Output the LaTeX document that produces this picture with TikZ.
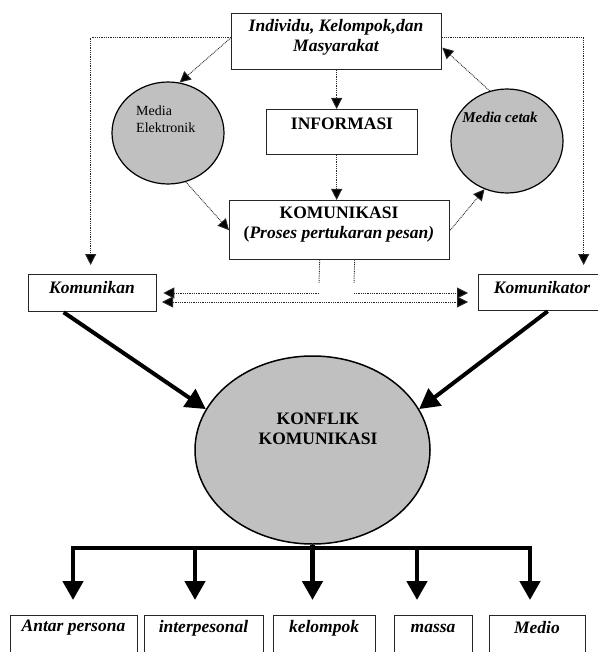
\documentclass[tikz,border=0pt]{standalone}
\usepackage{fontspec}
\setmainfont{Liberation Serif}
\usetikzlibrary{arrows.meta,shapes.geometric}
\definecolor{ellgray}{RGB}{192,192,192}
\definecolor{dotgray}{RGB}{40,40,40}
\begin{document}
\begin{tikzpicture}[x=1pt,y=-1pt,
  box/.style={draw=black!85,line width=1.3pt,fill=white,inner sep=0pt,anchor=north west},
  ell/.style={ellipse,draw=black,line width=1.2pt,fill=ellgray,inner sep=0pt},
  bi/.style={font=\fontsize{17.5}{20}\selectfont\bfseries\itshape,inner sep=0pt,align=center},
  bb/.style={font=\fontsize{17.5}{20}\selectfont\bfseries,inner sep=0pt,align=center},
  dotline/.style={draw=dotgray,line width=0.9pt,dash pattern=on 0.9pt off 0.9pt},
  dotarr/.style={dotline,-{Triangle[length=11pt,width=11pt,fill=black]}},
  dotarrb/.style={dotline,{Triangle[length=11pt,width=11pt,fill=black]}-{Triangle[length=11pt,width=11pt,fill=black]}},
  thickarr/.style={draw=black,line width=4pt,-{Triangle[length=20pt,width=21pt]}},
  treeline/.style={draw=black,line width=4.5pt},
  treearr/.style={draw=black,line width=4.5pt,-{Triangle[length=19pt,width=20pt]}}
]
\useasboundingbox (0,0) rectangle (597,652);

% top box
\node[box,minimum width=210pt,minimum height=56pt] (top) at (231,13) {};
\node[bi] (toptxt) at (336,37) {Individu, Kelompok,dan\\Masyarakat};

% INFORMASI
\node[box,minimum width=151pt,minimum height=45pt] (info) at (266,109) {};
\node[bb] (infotxt) at (342,124) {INFORMASI};

% KOMUNIKASI
\node[box,minimum width=220pt,minimum height=59pt] (kom) at (229,200) {};
\node[bb] (komtxt) at (339,225) {KOMUNIKASI\\(\textit{Proses pertukaran pesan)}};

% ellipses
\node[ell,minimum width=112pt,minimum height=102pt] (me) at (168,133) {};
\node[font=\fontsize{14}{17}\selectfont,inner sep=0pt,align=left,anchor=west] (metxt) at (136,119) {Media\\Elektronik};
\node[ell,minimum width=112pt,minimum height=104pt] (mc) at (507,141) {};
\node[font=\fontsize{15}{18}\selectfont\bfseries\itshape,inner sep=0pt] (mctxt) at (500,117) {Media cetak};

% Komunikan / Komunikator
\node[box,minimum width=128pt,minimum height=37pt] (kmk) at (28,274) {};
\node[bi] (kmktxt) at (92,288) {Komunikan};
\node[box,minimum width=128pt,minimum height=36pt] (kmr) at (478,274) {};
\node[bi] (kmrtxt) at (542,288) {Komunikator};

% big ellipse
\node[ell,minimum width=235pt,minimum height=188pt,line width=1.5pt] (big) at (312.5,450) {};
\node[bb] (bigtxt) at (318,429) {KONFLIK\\KOMUNIKASI};

% bottom boxes
\node[box,minimum width=127pt,minimum height=47pt] (b1) at (10,615) {};
\node[bi] (b1t) at (73.5,628) {Antar persona};
\node[box,minimum width=119pt,minimum height=47pt] (b2) at (144,615) {};
\node[bi] (b2t) at (203.5,628) {interpesonal};
\node[box,minimum width=102pt,minimum height=47pt] (b3) at (273,615) {};
\node[bi] (b3t) at (324,628) {kelompok};
\node[box,minimum width=78pt,minimum height=47pt] (b4) at (394,615) {};
\node[bi] (b4t) at (433,628) {massa};
\node[box,minimum width=96pt,minimum height=47pt] (b5) at (489,615) {};
\node[bi] (b5t) at (537,628) {Medio};

% dotted connectors
\draw[dotarr] (top.south) -- (top.south |- info.north);
\draw[dotarr] (top.south |- info.south) -- (top.south |- kom.north);
\draw[dotarr] ([yshift=4pt]top.west) -- (me.77);
\draw[dotarr] (me.-70) -- (kom.west);
\draw[dotarr] (kom.east) -- (mc.245);
\draw[dotarr] (mc.109) -- ([yshift=-6pt]top.east);
\draw[dotarr,shorten >=9pt] ([yshift=4pt]top.west) -| ([xshift=-2pt]kmk.north);
\draw[dotarr,shorten >=9pt] ([yshift=4pt]top.east) -| ([xshift=41pt]kmr.north);

\coordinate (v1) at (319,283);
\coordinate (v2) at (354,283);
\coordinate (h1) at (319,293);
\coordinate (h2) at (354,293);
\coordinate (hl) at (156,302);
\coordinate (hr) at (478,302);
\draw[dotline] ([xshift=-20pt]kom.south) -- (v1);
\draw[dotline] ([xshift=15pt]kom.south) -- (v2);
\draw[dotarr,shorten >=6pt] (h1) -- (h1 -| kmk.east);
\draw[dotarr,shorten >=10pt] (h2) -- (h2 -| kmr.west);
\draw[dotarrb,shorten <=6pt,shorten >=10pt] (hl) -- (hr);

% thick arrows
\draw[thickarr] ([xshift=-29pt]kmk.south) -- (big.159);
\draw[thickarr] ([xshift=5pt]kmr.south) -- (big.21);

% tree
\coordinate (d1) at (73,548);
\coordinate (d2) at (195,548);
\coordinate (d3) at (311,548);
\coordinate (d4) at (417,548);
\coordinate (d5) at (530,548);
\draw[treeline,line cap=rect] (d1) -- (d5);
\draw[treearr,shorten >=15pt] (big.south) -- (big.south |- b3.north);
\draw[treearr,shorten >=15pt] (d1) -- (d1 |- b1.north);
\draw[treearr,shorten >=15pt] (d2) -- (d2 |- b2.north);
\draw[treearr,shorten >=15pt] (d4) -- (d4 |- b4.north);
\draw[treearr,shorten >=15pt] (d5) -- (d5 |- b5.north);
\end{tikzpicture}
\end{document}
